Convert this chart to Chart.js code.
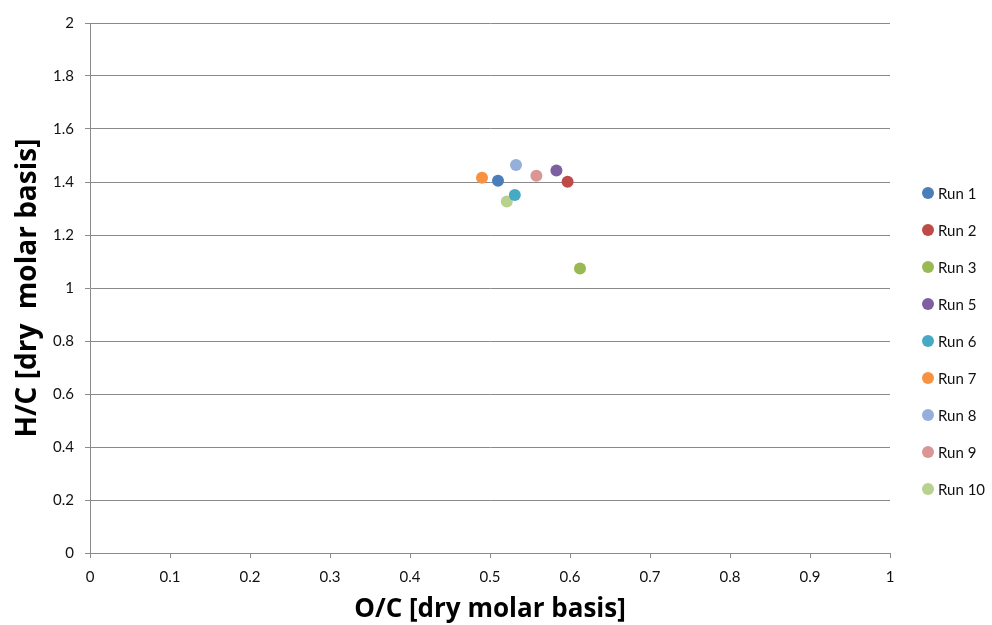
<!DOCTYPE html>
<html>
<head>
<meta charset="utf-8">
<script src="https://cdn.jsdelivr.net/npm/chart.js@4/dist/chart.umd.min.js"></script>
<style>
  html, body { margin: 0; padding: 0; background: #fff; }
  #wrap { width: 992px; height: 625px; }
</style>
</head>
<body>
<div id="wrap"><canvas id="chart" width="992" height="625"></canvas></div>
<script>
// Run labels and O/C, H/C values
const runNames = ['Run 1', 'Run 2', 'Run 3', 'Run 5', 'Run 6', 'Run 7', 'Run 8', 'Run 9', 'Run 10'];
const ocValues = [0.510, 0.597, 0.6125, 0.583, 0.531, 0.490, 0.5325, 0.558, 0.521];
const hcValues = [1.405, 1.401, 1.074, 1.443, 1.351, 1.416, 1.464, 1.424, 1.326];
const runColors = ['#4a7ebb', '#be4b48', '#98b954', '#7d60a0', '#46aac5', '#f69240', '#94afd9', '#d99694', '#b9d18f'];

const xTicks = [0, 0.1, 0.2, 0.3, 0.4, 0.5, 0.6, 0.7, 0.8, 0.9, 1];
const yTicks = [0, 0.2, 0.4, 0.6, 0.8, 1, 1.2, 1.4, 1.6, 1.8, 2];

const tickFont = { family: 'Lato, "Open Sans", sans-serif', size: 15 };
const gridColor = '#8a8a8a';

const datasets = runNames.map((name, i) => ({
  label: name,
  data: [{ x: ocValues[i], y: hcValues[i] }],
  backgroundColor: runColors[i],
  borderColor: runColors[i],
  pointRadius: 6,
  pointHoverRadius: 6,
  borderWidth: 0
}));

// legend drawn by hand so it sits where Excel puts it
const sideLegend = {
  id: 'sideLegend',
  afterDraw(chart) {
    const ctx = chart.ctx;
    ctx.save();
    ctx.font = '15px ' + tickFont.family;
    ctx.textBaseline = 'middle';
    ctx.textAlign = 'left';
    chart.data.datasets.forEach((ds, i) => {
      const y = 193 + i * 37;
      ctx.fillStyle = ds.backgroundColor;
      ctx.beginPath();
      ctx.arc(928, y, 6, 0, Math.PI * 2);
      ctx.fill();
      ctx.fillStyle = '#111';
      ctx.fillText(ds.label, 938, y + 1);
    });
    ctx.restore();
  }
};

new Chart(document.getElementById('chart'), {
  type: 'scatter',
  data: { datasets: datasets },
  options: {
    responsive: false,
    animation: false,
    layout: { padding: { left: 0, right: 102, top: 23, bottom: 0 } },
    plugins: {
      legend: { display: false },
      tooltip: { enabled: false }
    },
    scales: {
      x: {
        type: 'linear',
        min: 0,
        max: 1,
        afterBuildTicks: (axis) => { axis.ticks = xTicks.map(v => ({ value: v })); },
        afterFit: (axis) => { axis.height = 72; },
        ticks: { font: tickFont, color: '#111', padding: 10, callback: (v) => String(v) },
        grid: { drawOnChartArea: false, color: gridColor, tickLength: 5 },
        border: { color: gridColor },
        title: {
          display: true,
          text: 'O/C [dry molar basis]',
          font: { family: '"Open Sans", sans-serif', size: 26, weight: 'bold' },
          color: '#000',
          padding: { top: 0, bottom: 0 }
        }
      },
      y: {
        type: 'linear',
        min: 0,
        max: 2,
        afterBuildTicks: (axis) => { axis.ticks = yTicks.map(v => ({ value: v })); },
        afterFit: (axis) => { axis.width = 90; },
        ticks: { font: tickFont, color: '#111', padding: 11, callback: (v) => String(v) },
        grid: { color: gridColor, tickLength: 5 },
        border: { color: gridColor },
        title: {
          display: true,
          text: 'H/C [dry  molar basis]',
          font: { family: '"Open Sans", sans-serif', size: 28, weight: 'bold' },
          color: '#000',
          padding: { top: 11, bottom: 0 }
        }
      }
    }
  },
  plugins: [sideLegend]
});
</script>
</body>
</html>
